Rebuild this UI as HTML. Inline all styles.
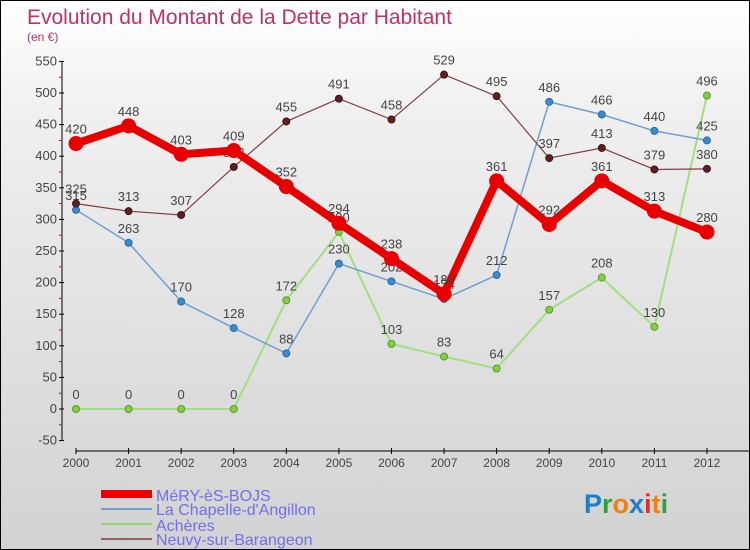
<!DOCTYPE html>
<html><head><meta charset="utf-8"><style>
body{margin:0;}
#c{position:relative;width:748px;height:548px;border:1px solid #000;background:linear-gradient(#fff 0%,#f0f0f0 20%,#d2d2d2 100%);font-family:"Liberation Sans",sans-serif;overflow:hidden}
svg text{font-family:"Liberation Sans",sans-serif}
</style></head><body>
<div id="c">
<svg id="s" width="748" height="548">
<text x="26" y="23" font-size="21" fill="#c0306a">Evolution du Montant de la Dette par Habitant</text>
<text x="26" y="40" font-size="12" fill="#c0306a">(en €)</text>
<g id="axes"></g><g id="series"></g>
<g>
<rect x="100" y="489" width="51" height="8" fill="#e00"/>
<text x="155" y="500" font-size="16" fill="#6f6fef">MéRY-èS-BOJS</text>
<rect x="100" y="507" width="51" height="2" fill="#6fa0c8"/>
<text x="155" y="514" font-size="16" fill="#6f6fef">La Chapelle-d'Angillon</text>
<rect x="100" y="522" width="51" height="2" fill="#90d870"/>
<text x="155" y="530" font-size="16" fill="#6f6fef">Achères</text>
<rect x="100" y="537" width="51" height="2" fill="#906060"/>
<text x="155" y="544" font-size="16" fill="#6f6fef">Neuvy-sur-Barangeon</text>
</g>
<text x="583" y="512" font-size="27" font-weight="bold"><tspan fill="#1a7fd0">P</tspan><tspan fill="#30a040">r</tspan><tspan fill="#f08010">o</tspan><tspan fill="#1a7fd0">x</tspan><tspan fill="#e03020">i</tspan><tspan fill="#f08010">t</tspan><tspan fill="#30a040">i</tspan></text>
</svg>
<script>
const years=[2000,2001,2002,2003,2004,2005,2006,2007,2008,2009,2010,2011,2012];
const yTicks=[-50,0,50,100,150,200,250,300,350,400,450,500,550];
const mery=[420,448,403,409,352,294,238,182,361,292,361,313,280];
const chapelle=[315,263,170,128,88,230,202,174,212,486,466,440,425];
const acheres=[0,0,0,0,172,280,103,83,64,157,208,130,496];
const neuvy=[325,313,307,383,455,491,458,529,495,397,413,379,380];
const NS="http://www.w3.org/2000/svg";
const X=i=>75+i*52.58;
const Y=v=>408-v*0.632;
function mk(t,a,p){const e=document.createElementNS(NS,t);for(const k in a)e.setAttribute(k,a[k]);p.appendChild(e);return e;}
const ax=document.getElementById('axes'),sr=document.getElementById('series');
const yl=mk('line',{x1:61,y1:Y(550),x2:61,y2:Y(-50),stroke:'#000','stroke-width':1},ax);


const xl=mk('line',{x1:75,y1:450,x2:748,y2:450,stroke:'#000','stroke-width':1},ax);


yTicks.forEach((v,i)=>{
 mk('line',{x1:58,y1:Y(v),x2:63,y2:Y(v),stroke:'#000'},ax);
 if(i<yTicks.length-1) mk('line',{x1:58,y1:Y(v+25),x2:61,y2:Y(v+25),stroke:'#e00'},ax);
 const t=mk('text',{x:56,y:Y(v)+4,'font-size':13,fill:'#444','text-anchor':'end'},ax);t.textContent=v;
 
 
});
years.forEach((y,i)=>{
 mk('line',{x1:X(i),y1:447,x2:X(i),y2:453,stroke:'#000'},ax);
 const t=mk('text',{x:X(i),y:466,'font-size':12,fill:'#444','text-anchor':'middle'},ax);t.textContent=y;
 
 
});
function series(d,name,color,lw,dot,dotc,r){
 const g=mk('g',{},sr);
 
 
 mk('polyline',{points:d.map((v,i)=>X(i)+','+Y(v)).join(' '),fill:'none',stroke:color,'stroke-width':lw,'stroke-linejoin':'round'},g);
 d.forEach((v,i)=>{
  const c=mk('circle',{cx:X(i),cy:Y(v),r:r,fill:dot,stroke:dotc,'stroke-width':1},g);
  
  
  const t=mk('text',{x:X(i),y:Y(v)-10,'font-size':13,fill:'#444','text-anchor':'middle'},g);t.textContent=v;
  
  
 });
}
series(acheres,'acheres-series','#a0e080',2,'#80d040','#5a9a30',3.5);
series(chapelle,'chapelle-series','#6fa0d0',1.5,'#3a8ad0','#2a6aa0',3.5);
series(neuvy,'neuvy-series','#804040',1.2,'#602020','#401010',3.5);
series(mery,'mery-series','#e80000',8,'#e80000','#e80000',7);
</script>
</div>
</body></html>
